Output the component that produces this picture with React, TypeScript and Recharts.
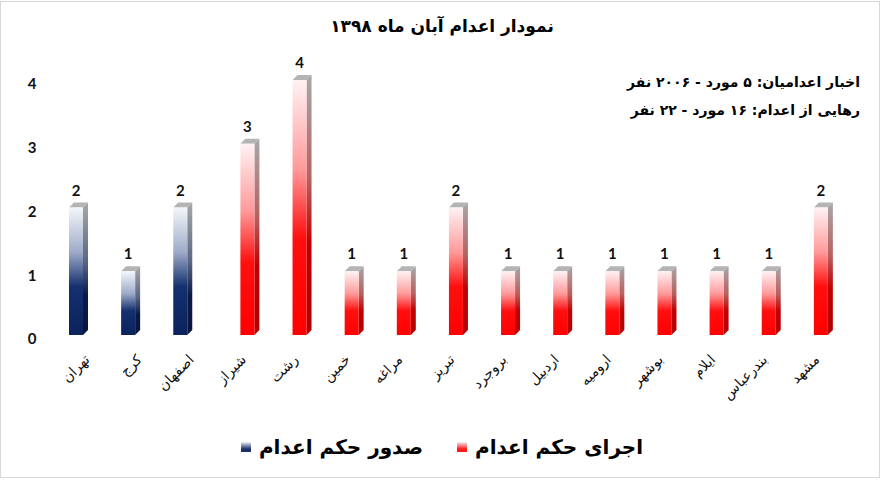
import React from "react";
import { Bar, BarChart, LabelList, XAxis, YAxis } from "recharts";

const cities = [
  "تهران",
  "کرج",
  "اصفهان",
  "شیراز",
  "رشت",
  "خمین",
  "مراغه",
  "تبریز",
  "بروجرد",
  "اردبیل",
  "ارومیه",
  "بوشهر",
  "ایلام",
  "بندرعباس",
  "مشهد",
];
const issued = [2, 1, 2, null, null, null, null, null, null, null, null, null, null, null, null];
const executed = [null, null, null, 3, 4, 1, 1, 2, 1, 1, 1, 1, 1, 1, 2];
const yTicks = [0, 1, 2, 3, 4];

const title = "نمودار اعدام آبان ماه ۱۳۹۸";
const notes = ["اخبار اعدامیان: ۵ مورد - ۲۰۰۶ نفر", "رهایی از اعدام: ۱۶ مورد - ۲۲ نفر"];

const series = [
  { key: "executed", name: "اجرای حکم اعدام", front: "redFront", side: "redSide", swatch: "#ff1a1a" },
  { key: "issued", name: "صدور حکم اعدام", front: "blueFront", side: "blueSide", swatch: "#1a2f6b" },
];

const data = cities.map((city, i) => ({ city, issued: issued[i], executed: executed[i] }));

const ARABIC = "'DejaVu Sans', sans-serif";
const LATIN = "Lato, 'DejaVu Sans', sans-serif";
const DEPTH = 5;

function Bar3D(props: any) {
  const { x, y, width, height, frontId, sideId } = props;
  if (!height || height <= 0) return null;
  const r = x + width;
  const b = y + height;
  return (
    <g>
      <polygon
        points={`${r},${y} ${r + DEPTH},${y - DEPTH} ${r + DEPTH},${b - DEPTH} ${r},${b}`}
        fill={`url(#${sideId})`}
      />
      <polygon
        points={`${x},${y} ${x + DEPTH},${y - DEPTH} ${r + DEPTH},${y - DEPTH} ${r},${y}`}
        fill="#b4b4b4"
      />
      <rect x={x} y={y} width={width} height={height} fill={`url(#${frontId})`} />
    </g>
  );
}

function ValueLabel(props: any) {
  const { x, y, width, value } = props;
  if (value == null) return null;
  return (
    <text
      x={x + width / 2}
      y={y - 12}
      textAnchor="middle"
      fontFamily={LATIN}
      fontWeight={700}
      fontSize={15}
      fill="#111"
    >
      {value}
    </text>
  );
}

function CityTick(props: any) {
  const { x, y, payload } = props;
  return (
    <g transform={`translate(${x + 4},${y + 22})`}>
      <text
        transform="rotate(-45)"
        textAnchor="end"
        dy="0.35em"
        fontFamily={ARABIC}
        fontSize={14}
        fill="#111"
      >
        {payload.value}
      </text>
    </g>
  );
}

function CountTick(props: any) {
  const { y, payload } = props;
  return (
    <text
      x={32}
      y={y + 4}
      dy="0.35em"
      textAnchor="middle"
      fontFamily={LATIN}
      fontWeight={700}
      fontSize={15}
      fill="#111"
    >
      {payload.value}
    </text>
  );
}

export default function App() {
  return (
    <div style={{ position: "relative", width: 880, height: 479, background: "#fff" }}>
      <style>{`body{margin:0}`}</style>
      <div
        style={{
          position: "absolute",
          left: 0,
          top: 1,
          width: 880,
          height: 477,
          border: "1px solid #d9d9d9",
          boxSizing: "border-box",
        }}
      />
      <div
        style={{
          position: "absolute",
          top: 16,
          left: 0,
          width: 884,
          textAlign: "center",
          fontFamily: ARABIC,
          fontWeight: 700,
          fontSize: 17,
          direction: "rtl",
        }}
      >
        {title}
      </div>
      <div
        style={{
          position: "absolute",
          top: 68,
          right: 20,
          textAlign: "right",
          fontFamily: ARABIC,
          fontWeight: 700,
          fontSize: 14,
          lineHeight: "28px",
          direction: "rtl",
        }}
      >
        {notes.map((n) => (
          <div key={n}>{n}</div>
        ))}
      </div>

      <BarChart
        width={880}
        height={479}
        data={data}
        margin={{ top: 80, right: 41, left: 0, bottom: 44 }}
        barSize={14}
        barGap={1}
        style={{ position: "absolute", left: 0, top: 0 }}
      >
        <defs>
          <linearGradient id="blueFront" x1="0" y1="0" x2="0" y2="1">
            <stop offset="0%" stopColor="#f4f6fb" />
            <stop offset="35%" stopColor="#9eabc9" />
            <stop offset="62%" stopColor="#14306f" />
            <stop offset="100%" stopColor="#0b225b" />
          </linearGradient>
          <linearGradient id="blueSide" x1="0" y1="0" x2="0" y2="1">
            <stop offset="0%" stopColor="#a8a8a8" />
            <stop offset="45%" stopColor="#5a6584" />
            <stop offset="70%" stopColor="#0b1a45" />
            <stop offset="100%" stopColor="#08163d" />
          </linearGradient>
          <linearGradient id="redFront" x1="0" y1="0" x2="0" y2="1">
            <stop offset="0%" stopColor="#fff2f4" />
            <stop offset="35%" stopColor="#ff9a9a" />
            <stop offset="62%" stopColor="#ff0f0f" />
            <stop offset="100%" stopColor="#ff0000" />
          </linearGradient>
          <linearGradient id="redSide" x1="0" y1="0" x2="0" y2="1">
            <stop offset="0%" stopColor="#a8a8a8" />
            <stop offset="40%" stopColor="#b86060" />
            <stop offset="65%" stopColor="#c00000" />
            <stop offset="100%" stopColor="#b00000" />
          </linearGradient>
        </defs>
        <XAxis
          dataKey="city"
          interval={0}
          height={100}
          tickLine={false}
          axisLine={false}
          tickSize={0}
          tickMargin={0}
          tick={<CityTick />}
        />
        <YAxis
          domain={[0, 4]}
          ticks={yTicks}
          width={57}
          tickLine={false}
          axisLine={false}
          tick={<CountTick />}
        />
        <Bar
          dataKey="issued"
          name={series[1].name}
          isAnimationActive={false}
          shape={(p: any) => <Bar3D {...p} frontId="blueFront" sideId="blueSide" />}
        >
          <LabelList dataKey="issued" content={<ValueLabel />} />
        </Bar>
        <Bar
          dataKey="executed"
          name={series[0].name}
          isAnimationActive={false}
          shape={(p: any) => <Bar3D {...p} frontId="redFront" sideId="redSide" />}
        >
          <LabelList dataKey="executed" content={<ValueLabel />} />
        </Bar>
      </BarChart>

      <div
        style={{
          position: "absolute",
          top: 435,
          left: 0,
          width: 884,
          display: "flex",
          justifyContent: "center",
          direction: "rtl",
          gap: 34,
          fontFamily: ARABIC,
          fontWeight: 700,
          fontSize: 20,
        }}
      >
        {series.map((s) => (
          <div key={s.key} style={{ display: "flex", alignItems: "center", gap: 8 }}>
            <span>{s.name}</span>
            <span
              style={{
                width: 10,
                height: 10,
                background: `linear-gradient(#f0f0f5, ${s.swatch} 70%)`,
                display: "inline-block",
              }}
            />
          </div>
        ))}
      </div>
    </div>
  );
}
